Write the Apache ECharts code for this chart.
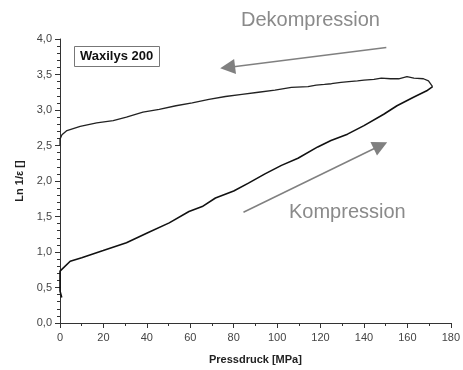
<!DOCTYPE html>
<html><head><meta charset="utf-8">
<script src="https://cdn.jsdelivr.net/npm/echarts@6/dist/echarts.min.js"></script>
<style>html,body{margin:0;padding:0;background:#fff}#c{width:463px;height:370px}</style>
</head><body><div id="c"></div>
<script>
// Compression (loading) branch: [Pressdruck MPa, Ln 1/eps]
const kompression = [
  [0.8,0.36],[0,0.45],[0,0.73],[4.7,0.87],[10,0.92],[19.9,1.02],[30.6,1.13],[40.4,1.27],
  [50.3,1.41],[59.4,1.57],[65.5,1.64],[71.6,1.76],[80,1.86],[86.8,1.97],
  [94.4,2.10],[102,2.22],[109.6,2.32],[118.7,2.48],[124.8,2.57],[132.4,2.66],
  [140,2.78],[149.1,2.94],[155.2,3.06],[162.8,3.18],[168.9,3.27],[171.6,3.33]
];
// Decompression (unloading) branch
const dekompression = [
  [171.6,3.33],[169.7,3.41],[167.4,3.44],[163,3.45],[159.8,3.47],[156,3.44],[152.2,3.44],
  [148,3.45],[144.6,3.43],[140,3.42],[137,3.41],[133,3.40],[129.4,3.39],[125,3.37],
  [121.8,3.36],[118,3.35],[114.2,3.33],[106.6,3.32],[99,3.28],[91.4,3.25],[83.8,3.22],
  [76.2,3.19],[68.6,3.15],[60.9,3.10],[53.4,3.06],[45.7,3.01],[38.2,2.97],[30.6,2.90],
  [24.5,2.85],[16.9,2.82],[9.3,2.77],[3.2,2.71],[0.9,2.65],[0,2.59],[0,2.50]
];
const xTicks = [0,20,40,60,80,100,120,140,160,180];
const yTicks = [0,0.5,1,1.5,2,2.5,3,3.5,4];
// annotation arrows in data coordinates [start, end]
const arrowDekompression = [[150.3,3.88],[77.2,3.60]];
const arrowKompression = [[84.5,1.56],[147.6,2.50]];

const fmtY = v => v.toFixed(1).replace('.', ',');
const font = 'Arial, "Liberation Sans", sans-serif';

const chart = echarts.init(document.getElementById('c'), null, {renderer:'canvas'});
chart.setOption({
  animation:false,
  backgroundColor:'#fff',
  grid:{left:60,top:39,right:9,bottom:44,containLabel:false},
  xAxis:{
    type:'value', min:xTicks[0], max:xTicks[xTicks.length-1], interval:20,
    name:'Pressdruck [MPa]', nameLocation:'middle', nameGap:31,
    nameTextStyle:{fontFamily:font,fontWeight:'bold',fontSize:11,color:'#222'},
    axisLine:{show:true,onZero:false,lineStyle:{color:'#333',width:1}},
    axisTick:{show:true,inside:false,length:5,lineStyle:{color:'#333'}},
    minorTick:{show:true,splitNumber:2,length:3,lineStyle:{color:'#333'}},
    splitLine:{show:false},
    axisLabel:{fontFamily:font,fontSize:11,color:'#444',margin:9}
  },
  yAxis:{
    type:'value', min:yTicks[0], max:yTicks[yTicks.length-1], interval:0.5,
    name:'Ln 1/ε []', nameLocation:'middle', nameGap:31,
    nameTextStyle:{fontFamily:font,fontWeight:'bold',fontSize:11,color:'#222'},
    axisLine:{show:true,onZero:false,lineStyle:{color:'#333',width:1}},
    axisTick:{show:true,inside:false,length:5,lineStyle:{color:'#333'}},
    minorTick:{show:true,splitNumber:5,length:3,lineStyle:{color:'#333'}},
    splitLine:{show:false},
    axisLabel:{fontFamily:font,fontSize:11,color:'#444',margin:8,formatter:fmtY}
  },
  series:[
    {type:'line',data:kompression,showSymbol:false,symbol:'none',
     lineStyle:{color:'#111',width:1.6},
     markLine:{silent:true,symbol:['none','triangle'],symbolSize:15,
       lineStyle:{color:'#808080',width:1.5,type:'solid'},
       itemStyle:{color:'#808080'},label:{show:false},
       data:[
         [{coord:arrowDekompression[0]},{coord:arrowDekompression[1]}],
         [{coord:arrowKompression[0]},{coord:arrowKompression[1]}]
       ]}},
    {type:'line',data:dekompression,showSymbol:false,symbol:'none',
     lineStyle:{color:'#222',width:1.3}}
  ],
  graphic:[
    {type:'rect',left:74,top:46,shape:{width:85,height:20},
     style:{fill:'#fff',stroke:'#777',lineWidth:1}},
    {type:'text',left:80,top:50,style:{text:'Waxilys 200',font:'bold 13px '+font,fill:'#111'}},
    {type:'text',left:241,top:10,style:{text:'Dekompression',font:'20px '+font,fill:'#8a8a8a'}},
    {type:'text',left:289,top:202,style:{text:'Kompression',font:'20px '+font,fill:'#8a8a8a'}}
  ]
});
</script></body></html>
